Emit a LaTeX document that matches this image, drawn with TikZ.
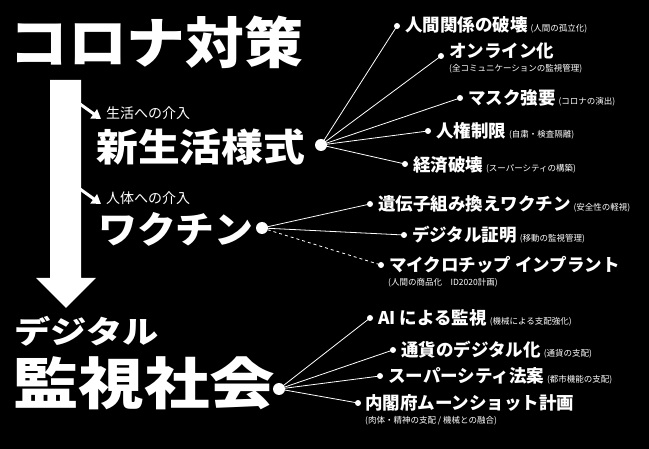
\documentclass[tikz,border=0pt]{standalone}
\usepackage{fontspec}
\setmainfont{Noto Sans CJK JP}
\usetikzlibrary{arrows.meta}
\tikzset{
  item/.style={anchor=west, text=white, font=\fontsize{17.5}{19}\selectfont\bfseries, inner sep=1pt},
  note/.style={text=white, font=\fontsize{8.5}{9}\selectfont, inner sep=1pt},
  hub/.style={circle, fill=white, inner sep=0pt, minimum size=12pt},
  tip/.style={circle, fill=white, inner sep=0pt, minimum size=6pt},
  spoke/.style={white, line width=0.8pt},
  sidearrow/.style={white, line width=3pt, -{Triangle[length=9pt,width=11pt]}}
}
\newcommand{\sm}[1]{\,{\fontsize{8.5}{9}\selectfont\mdseries #1}}
\begin{document}
\begin{tikzpicture}[x=1pt,y=-1pt]
  \useasboundingbox[fill=black] (0,0) rectangle (649,449);
  % titles
  \node[anchor=west, text=white, font=\fontsize{55}{57}\selectfont\bfseries, inner sep=0pt, xscale=1.07] (corona) at (9,42) {コロナ対策};
  \node[anchor=west, text=white, font=\fontsize{38}{40}\selectfont\bfseries, inner sep=0pt, xscale=1.1] (life) at (96,147) {新生活様式};
  \node[anchor=west, text=white, font=\fontsize{14}{15}\selectfont, inner sep=0pt] (lifenote) at (106,113) {生活への介入};
  \node[anchor=west, text=white, font=\fontsize{37}{39}\selectfont\bfseries, inner sep=0pt, xscale=1.05] (vac) at (98,229) {ワクチン};
  \node[anchor=west, text=white, font=\fontsize{14}{15}\selectfont, inner sep=0pt] (vacnote) at (106,198) {人体への介入};
  \node[anchor=west, text=white, font=\fontsize{31}{33}\selectfont\bfseries, inner sep=0pt, xscale=1.17] (dig) at (14,331) {デジタル};
  \node[anchor=west, text=white, font=\fontsize{56}{58}\selectfont\bfseries, inner sep=0pt, xscale=1.17] (soc) at (13,383) {監視社会};
  % big arrow
  \fill[white] (50,80) -- (81,80) -- (81,278) -- (96,278) -- (66,308) -- (36,278) -- (50,278) -- cycle;
  \coordinate (a1) at (73,99);  \coordinate (b1) at (101,119);
  \coordinate (a2) at (73,184); \coordinate (b2) at (101,204);
  \draw[sidearrow] (a1) -- (b1);
  \draw[sidearrow] (a2) -- (b2);
  % hubs
  \node[hub] (h1) at (321,145) {};
  \node[hub] (h2) at (262,228) {};
  \node[hub] (h3) at (279,389) {};
  % life branches
  \node[tip] (t1) at (397,26) {};
  \node[tip] (t2) at (441,56) {};
  \node[tip] (t3) at (460,98) {};
  \node[tip] (t4) at (428,131) {};
  \node[tip] (t5) at (405,164) {};
  \node[item] (l1) at (404,25) {人間関係の破壊\sm{(人間の孤立化)}};
  \node[item] (l2) at (448,51) {オンライン化};
  \node[note, anchor=north west] (l2n) at (448,63) {(全コミュニケーションの監視管理)};
  \node[item] (l3) at (467,98) {マスク強要\sm{(コロナの演出)}};
  \node[item] (l4) at (435,131) {人権制限\sm{(自粛・検査隔離)}};
  \node[item] (l5) at (412,165) {経済破壊\sm{(スーパーシティの構築)}};
  \foreach \i in {1,...,5} \draw[spoke] (h1.center) -- (t\i.center);
  % vaccine branches
  \node[tip] (v1) at (370,204) {};
  \node[tip] (v2) at (404,235) {};
  \node[tip] (v3) at (381,265) {};
  \node[item] (m1) at (377,204) {遺伝子組み換えワクチン\sm{(安全性の軽視)}};
  \node[item] (m2) at (411,235) {デジタル証明\sm{(移動の監視管理)}};
  \node[item] (m3) at (388,265) {マイクロチップ インプラント};
  \node[note, anchor=north west] (m3n) at (387,277) {(人間の商品化\quad ID2020計画)};
  \draw[spoke] (h2.center) -- (v1.center);
  \draw[spoke] (h2.center) -- (v2.center);
  \draw[spoke, dashed] (h2.center) -- (v3.center);
  % society branches
  \node[tip] (s1) at (370,318) {};
  \node[tip] (s2) at (393,350) {};
  \node[tip] (s3) at (380,376) {};
  \node[tip] (s4) at (358,403) {};
  \node[item] (n1) at (377,318) {AI による監視\sm{(機械による支配強化)}};
  \node[item] (n2) at (400,350) {通貨のデジタル化\sm{(通貨の支配)}};
  \node[item] (n3) at (387,376) {スーパーシティ法案\sm{(都市機能の支配)}};
  \node[item] (n4) at (364,403) {内閣府ムーンショット計画};
  \node[note, anchor=north west] (n4n) at (364,415) {(肉体・精神の支配 / 機械との融合)};
  \foreach \i in {1,...,4} \draw[spoke] (h3.center) -- (s\i.center);
\end{tikzpicture}
\end{document}
